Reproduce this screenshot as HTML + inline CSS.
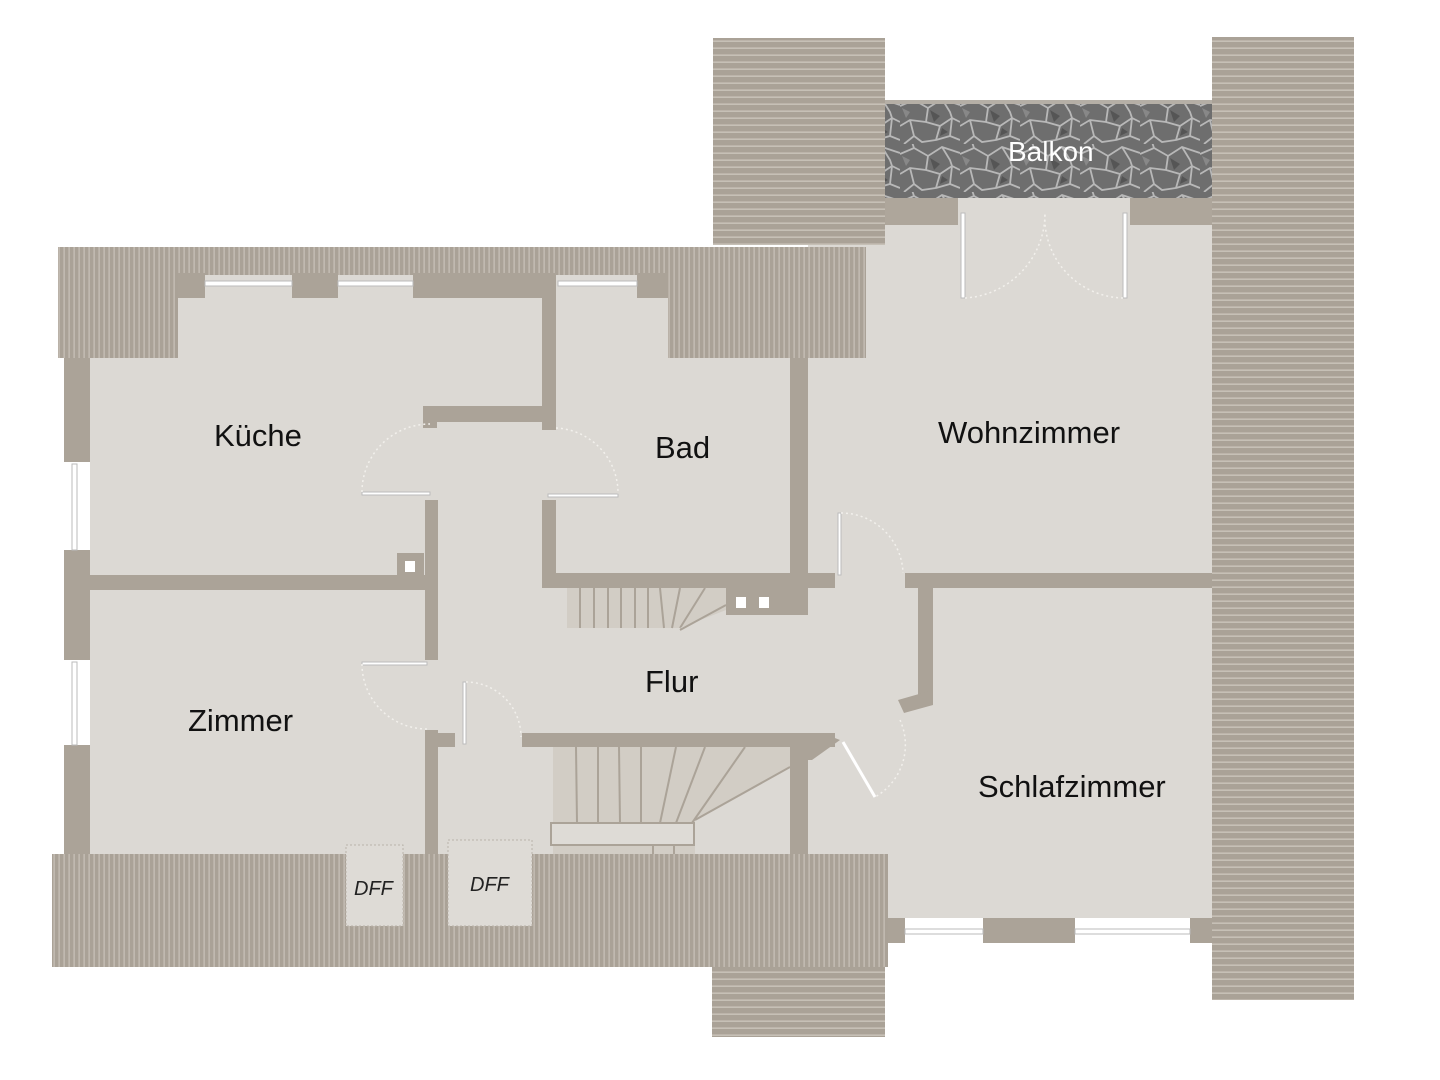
<!DOCTYPE html>
<html><head><meta charset="utf-8"><style>
html,body{margin:0;padding:0;background:#fff;width:1440px;height:1080px;overflow:hidden}
text{font-family:"Liberation Sans",sans-serif}
</style></head><body>
<svg width="1440" height="1080" viewBox="0 0 1440 1080" xmlns="http://www.w3.org/2000/svg">
<defs>
<pattern id="vs" width="5" height="10" patternUnits="userSpaceOnUse"><rect width="5" height="10" fill="#aaa297"/><rect x="3.5" width="1.2" height="10" fill="#c9c3ba"/></pattern>
<pattern id="hs" width="10" height="7" patternUnits="userSpaceOnUse"><rect width="10" height="7" fill="#aaa297"/><rect y="5.5" width="10" height="1.3" fill="#cdc7be"/></pattern>
<pattern id="stone" width="60" height="48" patternUnits="userSpaceOnUse">
<rect width="60" height="48" fill="#6e6e6e"/>
<path d="M0 10 L14 4 L28 12 L42 3 L60 9 M14 4 L12 -2 M28 12 L26 26 L10 24 L0 30 M26 26 L40 30 L52 22 L60 26 M42 3 L50 16 L52 22 M10 24 L14 40 L4 48 M40 30 L36 44 L22 46 L14 40 M36 44 L50 40 L60 44 M50 40 L52 22" stroke="#b8b8b8" stroke-width="1.8" fill="none"/>
<path d="M30 14 L40 20 L34 26 Z" fill="#555"/><path d="M2 12 L10 16 L6 22 Z" fill="#888"/><path d="M42 32 L48 36 L40 40 Z" fill="#555"/>
</pattern>
</defs>
<!-- floors -->
<g fill="#dcd9d4">
<rect x="90" y="273" width="718" height="581"/>
<rect x="808" y="225" width="404" height="693"/>
<rect x="958" y="198" width="172" height="27"/>
</g>
<rect x="885" y="198" width="73" height="27" fill="#aea69b"/>
<rect x="1130" y="198" width="82" height="27" fill="#aea69b"/>
<!-- roofs -->
<rect x="713" y="38" width="172" height="207" fill="url(#hs)"/>
<rect x="1212" y="37" width="142" height="963" fill="url(#hs)"/>
<rect x="712" y="966" width="173" height="71" fill="url(#hs)"/>
<rect x="58" y="247" width="808" height="28" fill="url(#vs)"/>
<rect x="58" y="247" width="120" height="111" fill="url(#vs)"/>
<rect x="668" y="247" width="198" height="111" fill="url(#vs)"/>
<rect x="52" y="854" width="836" height="113" fill="url(#vs)"/>
<!-- balkon -->
<rect x="885" y="103" width="327" height="95" fill="url(#stone)"/>
<rect x="885" y="100" width="327" height="4" fill="#b5afa6"/>
<!-- walls -->
<g fill="#aba398">
<rect x="178" y="273" width="27" height="25"/>
<rect x="292" y="273" width="46" height="25"/>
<rect x="413" y="273" width="143" height="25"/>
<rect x="637" y="273" width="31" height="25"/>
<rect x="64" y="358" width="26" height="104"/>
<rect x="64" y="550" width="26" height="110"/>
<rect x="64" y="745" width="26" height="109"/>
<rect x="542" y="273" width="14" height="157"/>
<rect x="423" y="406" width="133" height="16"/>
<rect x="423" y="406" width="14" height="22"/>
<rect x="90" y="575" width="347" height="15"/>
<rect x="397" y="553" width="27" height="25"/>
<rect x="425" y="500" width="13" height="160"/>
<rect x="425" y="730" width="13" height="124"/>
<rect x="425" y="733" width="30" height="14"/>
<rect x="542" y="500" width="14" height="88"/>
<rect x="542" y="573" width="293" height="15"/>
<rect x="726" y="573" width="82" height="42"/>
<rect x="790" y="358" width="18" height="257"/>
<rect x="905" y="573" width="307" height="15"/>
<rect x="918" y="588" width="15" height="110"/>
<polygon points="933,690 933,705 904,713 898,700"/>
<rect x="522" y="733" width="313" height="14"/>
<polygon points="822,733 840,740 812,760 790,760 790,747 822,747"/>
<rect x="790" y="747" width="18" height="107"/>
<rect x="888" y="918" width="17" height="25"/>
<rect x="983" y="918" width="92" height="25"/>
<rect x="1190" y="918" width="22" height="25"/>
</g>
<!-- small white squares -->
<g fill="#fff"><rect x="405" y="561" width="10" height="11"/><rect x="736" y="597" width="10" height="11"/><rect x="759" y="597" width="10" height="11"/></g>
<!-- windows -->
<g fill="#fff" stroke="#bbb" stroke-width="1">
<rect x="205" y="281" width="87" height="5"/><rect x="338" y="281" width="75" height="5"/><rect x="558" y="281" width="79" height="5"/>
<rect x="72" y="464" width="5" height="86"/><rect x="72" y="662" width="5" height="83"/>
<rect x="905" y="929" width="78" height="5"/><rect x="1075" y="929" width="115" height="5"/>
<rect x="961" y="213" width="4" height="85"/><rect x="1123" y="213" width="4" height="85"/>
<rect x="362" y="492" width="68" height="3"/><rect x="548" y="494" width="70" height="3"/>
<rect x="362" y="662" width="65" height="3"/><rect x="463" y="682" width="3" height="62"/>
<rect x="838" y="513" width="3" height="62"/>
</g>
<line x1="843" y1="742" x2="875" y2="797" stroke="#fff" stroke-width="3"/>
<!-- door arcs -->
<g fill="none" stroke="#f2f0ec" stroke-width="1.5" stroke-dasharray="2 3">
<path d="M362 492 A68 68 0 0 1 430 424"/>
<path d="M556 428 A65 65 0 0 1 618 494"/>
<path d="M362 664 A65 65 0 0 0 427 729"/>
<path d="M466 682 A55 55 0 0 1 521 737"/>
<path d="M841 513 A62 62 0 0 1 903 573"/>
<path d="M900 720 A60 60 0 0 1 875 797"/>
<path d="M965 298 A85 85 0 0 0 1045 213"/>
<path d="M1123 298 A80 80 0 0 1 1045 213"/>
</g>
<!-- stairs upper -->
<rect x="567" y="588" width="159" height="40" fill="#d2cdc5"/>
<g stroke="#aba398" stroke-width="2">
<line x1="580" y1="588" x2="580" y2="628"/><line x1="594" y1="588" x2="594" y2="628"/><line x1="608" y1="588" x2="608" y2="628"/><line x1="621" y1="588" x2="621" y2="628"/><line x1="635" y1="588" x2="635" y2="628"/><line x1="648" y1="588" x2="648" y2="628"/><line x1="660" y1="588" x2="664" y2="628"/><line x1="680" y1="588" x2="672" y2="628"/><line x1="705" y1="588" x2="680" y2="628"/>
</g>
<polygon points="726,610 726,628 680,628" fill="#dcd9d4"/>
<line x1="680" y1="630" x2="726" y2="605" stroke="#aba398" stroke-width="2"/>
<!-- stairs lower -->
<rect x="553" y="747" width="237" height="107" fill="#d2cdc5"/>
<polygon points="790,805 790,854 695,854 695,820 790,767" fill="#dcd9d4"/>
<g stroke="#aba398" stroke-width="2" fill="none">
<line x1="576" y1="747" x2="577" y2="823"/><line x1="598" y1="747" x2="598" y2="823"/><line x1="619" y1="747" x2="620" y2="823"/><line x1="641" y1="747" x2="641" y2="823"/><line x1="676" y1="747" x2="660" y2="823"/><line x1="705" y1="747" x2="676" y2="823"/><line x1="745" y1="747" x2="692" y2="823"/>
<line x1="695" y1="820" x2="790" y2="767"/>
<rect x="551" y="823" width="143" height="22" fill="#dedbd6"/>
<line x1="653" y1="845" x2="653" y2="854"/><line x1="674" y1="845" x2="674" y2="854"/>
</g>
<!-- DFF -->
<g fill="#dedbd6" stroke="#b9b3aa" stroke-width="1" stroke-dasharray="2 2">
<rect x="346" y="845" width="57" height="81"/><rect x="448" y="840" width="84" height="86"/>
</g>
<g font-style="italic" font-size="20" fill="#222">
<text x="354" y="895">DFF</text><text x="470" y="891">DFF</text>
</g>
<!-- labels -->
<g font-size="31" fill="#111">
<text x="214" y="446">Küche</text>
<text x="655" y="458">Bad</text>
<text x="938" y="443">Wohnzimmer</text>
<text x="188" y="731">Zimmer</text>
<text x="645" y="692">Flur</text>
<text x="978" y="797">Schlafzimmer</text>
</g>
<text x="1008" y="161" font-size="28" fill="#fff">Balkon</text>
</svg>
</body></html>
